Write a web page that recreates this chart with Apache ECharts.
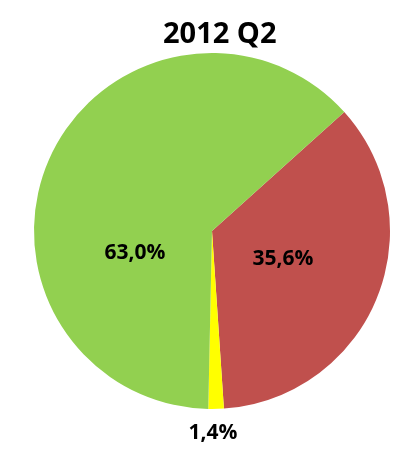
<!DOCTYPE html>
<html><head><meta charset="utf-8">
<script src="https://cdn.jsdelivr.net/npm/echarts@6/dist/echarts.min.js"></script>
<style>html,body{margin:0;padding:0;background:#fff}#c{width:411px;height:450px}</style>
</head><body><div id="c"></div>
<script>
const titleText = '2012 Q2';
const categories = ['Red', 'Yellow', 'Green'];
const values = [35.6, 1.4, 63.0];
const labels = ['35,6%', '1,4%', '63,0%'];
const colors = ['#C0504D', '#FFFF00', '#92D050'];
const labelSpots = [[283, 259], [213, 433], [135, 253]];

const chart = echarts.init(document.getElementById('c'));
chart.setOption({
  animation: false,
  title: {
    text: titleText, left: 158, top: 15,
    textStyle: { fontFamily: 'Open Sans', fontWeight: 'bold', fontSize: 29, color: '#000' }
  },
  series: [{
    type: 'pie',
    center: [212, 231],
    radius: 178,
    startAngle: 42,
    clockwise: true,
    silent: true,
    label: {
      show: true, position: 'inside',
      formatter: p => labels[p.dataIndex],
      fontFamily: 'Open Sans', fontWeight: 'bold', fontSize: 21, color: '#000'
    },
    labelLine: { show: false },
    labelLayout: p => ({ x: labelSpots[p.dataIndex][0], y: labelSpots[p.dataIndex][1], align: 'center', verticalAlign: 'middle' }),
    itemStyle: { borderWidth: 0 },
    data: categories.map((n, i) => ({ name: n, value: values[i], itemStyle: { color: colors[i] } }))
  }]
});
</script></body></html>
